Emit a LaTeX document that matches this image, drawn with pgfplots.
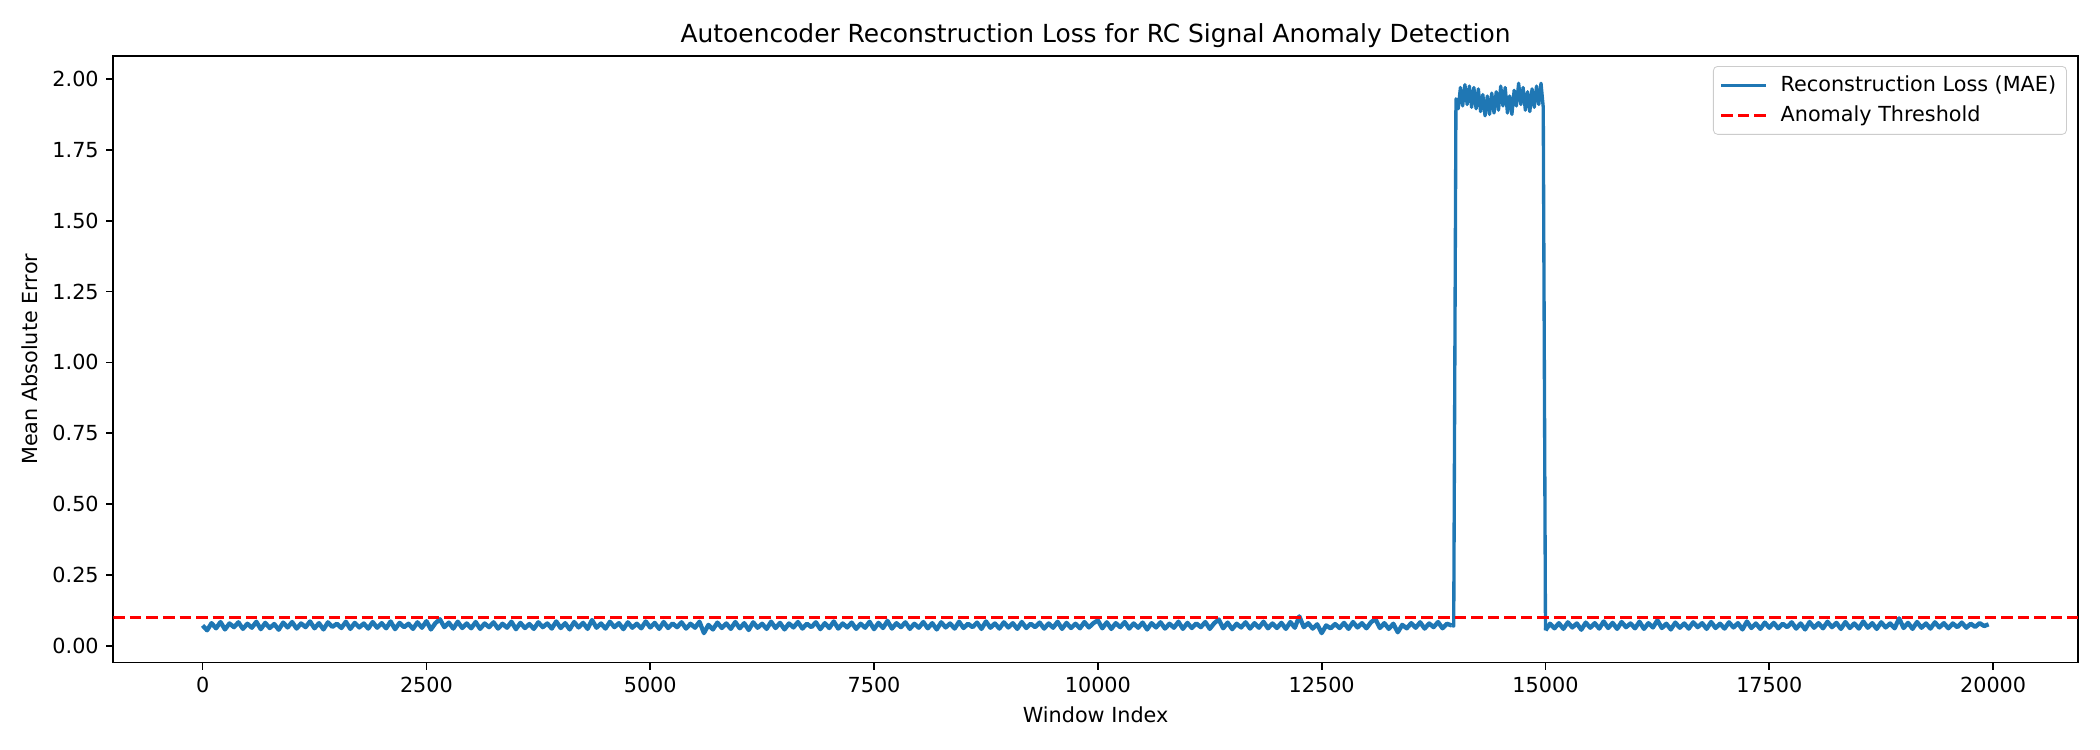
\documentclass[border=0pt]{standalone}
\usepackage{fontspec}
\setmainfont{DejaVu Sans}
\usepackage{pgfplots}
\pgfplotsset{compat=1.18}
\usepackage{pgfplotstable}
\definecolor{mplblue}{HTML}{1F77B4}

% Windows 0 .. 13950, step 50
\pgfplotstableread[row sep=\\]{y\\
0.072\\0.055\\0.080\\0.062\\0.084\\0.058\\0.079\\0.066\\0.083\\0.060\\0.078\\0.064\\0.085\\0.059\\0.081\\0.063\\0.077\\0.057\\0.082\\0.065\\
0.084\\0.061\\0.079\\0.066\\0.086\\0.062\\0.080\\0.058\\0.083\\0.067\\0.078\\0.063\\0.085\\0.060\\0.081\\0.065\\0.079\\0.061\\0.084\\0.064\\
0.080\\0.062\\0.086\\0.059\\0.081\\0.066\\0.078\\0.060\\0.083\\0.064\\0.087\\0.058\\0.080\\0.094\\0.066\\0.082\\0.061\\0.085\\0.063\\0.079\\
0.062\\0.084\\0.060\\0.079\\0.066\\0.083\\0.061\\0.078\\0.064\\0.085\\0.059\\0.081\\0.063\\0.077\\0.060\\0.083\\0.066\\0.079\\0.061\\0.086\\
0.063\\0.080\\0.058\\0.084\\0.065\\0.081\\0.060\\0.091\\0.064\\0.079\\0.061\\0.085\\0.066\\0.080\\0.059\\0.083\\0.064\\0.078\\0.062\\0.086\\
0.065\\0.081\\0.060\\0.084\\0.063\\0.079\\0.066\\0.083\\0.061\\0.078\\0.064\\0.085\\0.045\\0.074\\0.058\\0.082\\0.063\\0.079\\0.060\\0.084\\
0.062\\0.080\\0.056\\0.083\\0.064\\0.078\\0.060\\0.085\\0.063\\0.081\\0.058\\0.079\\0.065\\0.084\\0.061\\0.078\\0.066\\0.083\\0.059\\0.080\\
0.063\\0.086\\0.061\\0.079\\0.065\\0.082\\0.060\\0.078\\0.064\\0.085\\0.059\\0.081\\0.063\\0.088\\0.061\\0.080\\0.066\\0.083\\0.060\\0.078\\
0.064\\0.084\\0.062\\0.080\\0.058\\0.083\\0.065\\0.079\\0.061\\0.085\\0.063\\0.078\\0.066\\0.082\\0.060\\0.086\\0.064\\0.079\\0.061\\0.083\\
0.065\\0.080\\0.060\\0.084\\0.063\\0.078\\0.066\\0.082\\0.061\\0.079\\0.064\\0.085\\0.060\\0.081\\0.063\\0.078\\0.062\\0.084\\0.065\\0.080\\
0.090\\0.062\\0.083\\0.060\\0.080\\0.066\\0.084\\0.061\\0.079\\0.064\\0.082\\0.058\\0.080\\0.065\\0.083\\0.061\\0.078\\0.064\\0.085\\0.060\\
0.081\\0.063\\0.079\\0.066\\0.084\\0.060\\0.080\\0.093\\0.062\\0.082\\0.059\\0.078\\0.065\\0.083\\0.061\\0.080\\0.064\\0.085\\0.062\\0.079\\
0.063\\0.081\\0.060\\0.084\\0.064\\0.104\\0.066\\0.080\\0.061\\0.076\\0.045\\0.072\\0.062\\0.077\\0.063\\0.081\\0.060\\0.084\\0.065\\0.080\\
0.062\\0.083\\0.095\\0.063\\0.080\\0.060\\0.078\\0.048\\0.074\\0.062\\0.080\\0.064\\0.083\\0.061\\0.079\\0.066\\0.084\\0.062\\0.078\\0.072\\
}\lossA

% Windows 13950 .. 15000, step 25
\pgfplotstableread[row sep=\\]{y\\
0.072\\0.070\\
1.930\\1.895\\1.970\\1.905\\1.980\\1.910\\1.975\\1.900\\1.970\\1.895\\
1.965\\1.885\\1.945\\1.870\\1.940\\1.875\\1.950\\1.880\\1.955\\1.890\\
1.975\\1.905\\1.970\\1.880\\1.940\\1.875\\1.960\\1.905\\1.985\\1.910\\
1.970\\1.890\\1.955\\1.885\\1.965\\1.900\\1.975\\1.910\\1.985\\1.900\\
0.055\\
}\lossB

% Windows 15000 .. 19950, step 50
\pgfplotstableread[row sep=\\]{y\\
0.055\\0.078\\0.062\\0.080\\0.060\\0.083\\0.065\\0.079\\0.057\\0.082\\0.064\\0.080\\0.061\\0.086\\0.063\\0.081\\0.060\\0.084\\0.066\\0.079\\
0.062\\0.085\\0.060\\0.080\\0.065\\0.090\\0.063\\0.078\\0.058\\0.082\\0.064\\0.079\\0.061\\0.083\\0.066\\0.080\\0.060\\0.084\\0.063\\0.078\\
0.061\\0.083\\0.065\\0.080\\0.058\\0.086\\0.063\\0.079\\0.060\\0.082\\0.064\\0.081\\0.062\\0.078\\0.066\\0.083\\0.061\\0.079\\0.058\\0.084\\
0.064\\0.080\\0.062\\0.085\\0.066\\0.081\\0.060\\0.084\\0.063\\0.079\\0.061\\0.086\\0.064\\0.080\\0.060\\0.083\\0.065\\0.079\\0.062\\0.097\\
0.063\\0.081\\0.060\\0.084\\0.064\\0.079\\0.061\\0.083\\0.065\\0.080\\0.062\\0.079\\0.066\\0.082\\0.064\\0.078\\0.067\\0.080\\0.070\\0.076\\
}\lossC

\begin{document}
\begin{tikzpicture}
\useasboundingbox (-54.4bp,-41.9bp) rectangle (953.8bp,318.1bp);
\begin{axis}[
  at={(0,0)}, anchor=south west,
  scale only axis, width=943.2bp, height=291.2bp,
  xmin=-997.5, xmax=20947.5, ymin=-0.059, ymax=2.081,
  xtick={0,2500,5000,7500,10000,12500,15000,17500,20000},
  ytick={0,0.25,0.5,0.75,1,1.25,1.5,1.75,2},
  scaled x ticks=false, scaled y ticks=false,
  /pgf/number format/assume math mode=true,
  x tick label style={/pgf/number format/.cd, fixed, 1000 sep={}},
  y tick label style={/pgf/number format/.cd, fixed, fixed zerofill, precision=2},
  tick label style={font=\fontsize{10}{12}\selectfont},
  tick align=outside, tick pos=left, major tick length=3.5bp,
  tick style={black, line width=0.8bp},
  axis line style={line width=0.8bp},
  title={Autoencoder Reconstruction Loss for RC Signal Anomaly Detection},
  title style={font=\fontsize{12}{14}\selectfont, yshift=-5.5bp},
  xlabel={Window Index}, ylabel={Mean Absolute Error},
  label style={font=\fontsize{10}{12}\selectfont},
  legend style={at={(1,1)}, anchor=north east, xshift=-5.3bp, yshift=-4.8bp,
    draw=black!20, rounded corners=2bp, fill=white, fill opacity=0.8, text opacity=1,
    font=\fontsize{10}{12}\selectfont, inner xsep=3bp, inner ysep=2.5bp, row sep=1.5bp,
    cells={anchor=west}},
  legend image code/.code={\draw[#1, line width=1.5bp] (0bp,0bp) -- (21.6bp,0bp); \path (25.5bp,0bp);},
]
\addplot[mplblue, line width=2.1bp, line join=round] table[x expr=\coordindex*50, y=y]{\lossA};
\addlegendentry{Reconstruction Loss (MAE)}
\addplot[mplblue, line width=1.6bp, line join=round, forget plot] table[x expr=13950+\coordindex*25, y=y]{\lossB};
\addplot[mplblue, line width=2.1bp, line join=round, forget plot] table[x expr=15000+\coordindex*50, y=y]{\lossC};
\addplot[red, line width=1.5bp, dash pattern=on 5.55bp off 2.4bp] coordinates {(-997.5,0.1) (20947.5,0.1)};
\addlegendentry{Anomaly Threshold}
\end{axis}
\end{tikzpicture}
\end{document}
